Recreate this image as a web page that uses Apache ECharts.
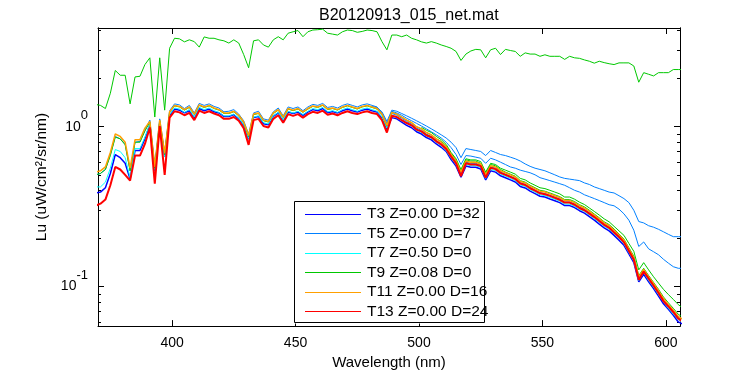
<!DOCTYPE html>
<html>
<head>
<meta charset="utf-8">
<script src="https://cdn.jsdelivr.net/npm/echarts@6/dist/echarts.min.js"></script>
<style>html,body{margin:0;padding:0;background:#fff}#c{width:750px;height:375px}</style>
</head>
<body>
<div id="c"></div>
<script>
// Wavelength grid (nm)
const wavelength = [
369,371,373,375,377,379,381,383,385,387,
389,391,393,395,397,399,401,403,405,407,
409,411,413,415,417,419,421,423,425,427,
429,431,433,435,437,439,441,443,445,447,
449,451,453,455,457,459,461,463,465,467,
469,471,473,475,477,479,481,483,485,487,
489,491,493,495,497,499,501,503,505,507,
509,511,513,515,517,519,521,523,525,527,
529,531,533,535,537,539,541,543,545,547,
549,551,553,555,557,559,561,563,565,567,
569,571,573,575,577,579,581,583,585,587,
589,591,593,595,597,599,601,603,605,607];

const t3 = [
0.385,0.39,0.415,0.51,0.67,0.64,0.59,0.47,0.71,0.71,
0.84,1.03,0.53,1.045,0.65,1.18,1.29,1.27,1.22,1.26,
1.14,1.30,1.26,1.29,1.24,1.22,1.16,1.16,1.19,1.12,
1.02,0.836,1.14,1.16,1.045,1.03,1.16,1.22,1.09,1.235,
1.21,1.235,1.18,1.235,1.28,1.26,1.30,1.225,1.245,1.22,
1.26,1.29,1.26,1.235,1.27,1.29,1.26,1.235,1.14,0.97,
1.14,1.12,1.07,1.02,0.985,0.93,0.90,0.856,0.828,0.78,
0.744,0.70,0.623,0.567,0.484,0.567,0.558,0.558,0.544,0.465,
0.53,0.52,0.493,0.479,0.465,0.451,0.423,0.414,0.395,0.381,
0.367,0.363,0.353,0.344,0.335,0.321,0.321,0.312,0.298,0.288,
0.274,0.26,0.246,0.233,0.223,0.209,0.195,0.181,0.16,0.141,
0.107,0.119,0.107,0.097,0.087,0.078,0.072,0.066,0.06,0.058];

const t5 = [
0.50,0.51,0.54,0.67,0.87,0.84,0.78,0.53,0.80,0.81,
0.95,1.10,0.57,1.12,0.69,1.26,1.39,1.37,1.30,1.36,
1.22,1.40,1.36,1.39,1.34,1.31,1.24,1.25,1.28,1.20,
1.09,0.90,1.22,1.25,1.12,1.10,1.24,1.31,1.17,1.33,
1.30,1.33,1.26,1.33,1.38,1.36,1.40,1.32,1.34,1.31,
1.36,1.39,1.36,1.33,1.37,1.39,1.36,1.33,1.22,1.04,
1.21,1.18,1.13,1.08,1.04,0.98,0.95,0.90,0.87,0.82,
0.78,0.735,0.655,0.60,0.51,0.60,0.59,0.59,0.575,0.49,
0.56,0.55,0.52,0.505,0.49,0.475,0.446,0.436,0.417,0.40,
0.387,0.382,0.372,0.363,0.353,0.338,0.338,0.328,0.314,0.304,
0.289,0.274,0.26,0.245,0.235,0.22,0.206,0.191,0.169,0.149,
0.113,0.125,0.113,0.102,0.092,0.082,0.075,0.07,0.064,0.061];

const t7 = [
0.42,0.42,0.45,0.55,0.72,0.70,0.64,0.48,0.73,0.73,
0.86,1.04,0.54,1.06,0.65,1.19,1.31,1.29,1.23,1.28,
1.15,1.32,1.28,1.31,1.26,1.23,1.17,1.17,1.20,1.13,
1.03,0.845,1.15,1.17,1.06,1.04,1.17,1.23,1.10,1.25,
1.22,1.25,1.19,1.25,1.30,1.28,1.32,1.24,1.26,1.23,
1.28,1.31,1.28,1.25,1.29,1.31,1.28,1.25,1.15,0.98,
1.17,1.14,1.09,1.045,1.01,0.95,0.92,0.874,0.845,0.80,
0.76,0.71,0.636,0.58,0.494,0.58,0.57,0.57,0.556,0.475,
0.54,0.532,0.504,0.49,0.475,0.46,0.432,0.423,0.404,0.39,
0.375,0.37,0.361,0.352,0.342,0.328,0.328,0.318,0.304,0.295,
0.28,0.266,0.252,0.238,0.228,0.214,0.2,0.185,0.163,0.144,
0.109,0.122,0.109,0.099,0.089,0.08,0.073,0.067,0.062,0.059];

const t9 = [
0.50,0.51,0.54,0.66,0.86,0.84,0.77,0.53,0.80,0.80,
0.94,1.07,0.55,1.09,0.67,1.23,1.35,1.33,1.27,1.32,
1.19,1.36,1.32,1.35,1.30,1.27,1.21,1.21,1.24,1.17,
1.06,0.87,1.19,1.21,1.09,1.07,1.21,1.27,1.14,1.29,
1.26,1.29,1.23,1.29,1.34,1.32,1.36,1.28,1.30,1.27,
1.32,1.35,1.32,1.29,1.33,1.35,1.32,1.29,1.19,1.01,
1.23,1.20,1.15,1.10,1.06,1.00,0.97,0.92,0.89,0.84,
0.81,0.76,0.68,0.62,0.53,0.62,0.61,0.61,0.59,0.51,
0.58,0.57,0.54,0.52,0.505,0.49,0.46,0.45,0.43,0.415,
0.40,0.395,0.385,0.375,0.365,0.35,0.35,0.34,0.325,0.315,
0.30,0.284,0.269,0.254,0.244,0.229,0.213,0.198,0.175,0.155,
0.117,0.13,0.117,0.106,0.096,0.086,0.079,0.073,0.067,0.064];

const t11 = [
0.52,0.53,0.56,0.69,0.90,0.87,0.80,0.55,0.83,0.83,
0.98,1.08,0.56,1.10,0.68,1.24,1.36,1.34,1.28,1.33,
1.20,1.37,1.33,1.36,1.31,1.28,1.22,1.22,1.25,1.18,
1.07,0.88,1.20,1.22,1.10,1.08,1.22,1.28,1.15,1.30,
1.27,1.30,1.24,1.30,1.35,1.33,1.37,1.29,1.31,1.28,
1.33,1.36,1.33,1.30,1.34,1.36,1.33,1.30,1.20,1.02,
1.23,1.20,1.15,1.10,1.06,1.00,0.97,0.92,0.89,0.84,
0.80,0.75,0.67,0.61,0.52,0.61,0.60,0.60,0.585,0.50,
0.57,0.56,0.53,0.515,0.50,0.485,0.455,0.445,0.425,0.41,
0.395,0.39,0.38,0.37,0.36,0.345,0.345,0.335,0.32,0.31,
0.295,0.28,0.265,0.25,0.24,0.225,0.21,0.195,0.172,0.152,
0.115,0.128,0.115,0.104,0.094,0.084,0.077,0.071,0.065,0.062];

const t13 = [
0.32,0.33,0.35,0.43,0.56,0.54,0.50,0.46,0.66,0.66,
0.78,0.99,0.44,1.01,0.50,1.14,1.25,1.23,1.18,1.22,
1.10,1.26,1.22,1.25,1.21,1.18,1.12,1.12,1.15,1.09,
0.98,0.77,1.10,1.12,1.01,0.99,1.12,1.18,1.06,1.20,
1.17,1.20,1.14,1.20,1.24,1.22,1.26,1.19,1.21,1.18,
1.22,1.25,1.22,1.20,1.23,1.25,1.22,1.20,1.10,0.92,
1.17,1.15,1.10,1.055,1.02,0.96,0.935,0.885,0.86,0.81,
0.775,0.725,0.65,0.59,0.49,0.59,0.58,0.58,0.567,0.48,
0.553,0.543,0.514,0.50,0.485,0.47,0.441,0.432,0.412,0.398,
0.383,0.378,0.369,0.359,0.349,0.335,0.335,0.325,0.31,0.30,
0.286,0.272,0.257,0.243,0.233,0.218,0.204,0.189,0.167,0.147,
0.11,0.124,0.112,0.101,0.091,0.081,0.075,0.069,0.063,0.06];

// Extra casts of the same stations
const t9Surface = [
1.38,1.36,1.30,1.62,2.25,2.10,2.10,1.39,2.05,2.07,
2.45,2.70,1.15,2.70,1.27,3.10,3.58,3.55,3.40,3.50,
3.41,3.15,3.65,3.58,3.58,3.50,3.45,3.34,3.50,3.34,
2.83,2.34,3.45,3.50,3.25,3.15,3.50,3.66,3.50,3.85,
3.93,4.00,3.66,3.93,4.03,4.05,4.08,3.85,3.80,3.75,
3.93,4.03,4.00,3.90,3.95,4.03,4.00,3.93,3.41,3.03,
3.75,3.75,3.66,3.75,3.58,3.50,3.40,3.34,3.41,3.34,
3.25,3.18,3.10,2.96,2.60,2.85,2.98,3.05,3.03,2.70,
3.03,3.10,2.83,3.05,3.00,2.96,2.76,2.90,2.85,2.85,
2.76,2.82,2.76,2.76,2.76,2.64,2.76,2.70,2.68,2.62,
2.57,2.50,2.57,2.52,2.48,2.45,2.51,2.51,2.51,2.40,
1.90,2.18,2.13,2.08,2.18,2.18,2.18,2.28,2.28,2.28];

// from 481 nm
const t5CastA = [
1.34,1.32,1.24,1.08,1.27,1.25,1.21,1.17,1.13,1.09,
1.05,1.01,0.97,0.93,0.89,0.85,0.80,0.74,0.64,0.73,
0.72,0.71,0.70,0.66,0.71,0.69,0.67,0.66,0.645,0.63,
0.61,0.585,0.565,0.55,0.54,0.53,0.515,0.50,0.485,0.475,
0.47,0.465,0.46,0.445,0.435,0.42,0.41,0.40,0.39,0.385,
0.37,0.355,0.335,0.30,0.255,0.25,0.24,0.235,0.228,0.22,
0.212,0.205,0.205,0.205];
const t5CastB = [
1.33,1.31,1.22,1.05,1.25,1.22,1.18,1.13,1.09,1.05,
1.01,0.97,0.93,0.89,0.85,0.80,0.74,0.67,0.58,0.66,
0.655,0.645,0.635,0.59,0.635,0.62,0.60,0.58,0.56,0.55,
0.535,0.525,0.515,0.50,0.48,0.47,0.46,0.45,0.44,0.43,
0.415,0.40,0.39,0.375,0.365,0.355,0.345,0.335,0.325,0.32,
0.305,0.285,0.26,0.225,0.178,0.19,0.172,0.165,0.158,0.148,
0.14,0.133,0.13,0.13];
// from 501 nm
const t9CastB = [
0.99,0.95,0.92,0.87,0.83,0.775,0.69,0.63,0.54,0.63,
0.62,0.62,0.605,0.52,0.59,0.58,0.55,0.535,0.52,0.505,
0.475,0.465,0.445,0.43,0.415,0.41,0.40,0.39,0.38,0.363,
0.363,0.352,0.337,0.326,0.31,0.295,0.28,0.265,0.254,0.238,
0.223,0.209,0.186,0.166,0.127,0.141,0.127,0.115,0.105,0.096,
0.089,0.083,0.077,0.073];

const names = ['T3 Z=0.00 D=32','T5 Z=0.00 D=7','T7 Z=0.50 D=0','T9 Z=0.08 D=0','T11 Z=0.00 D=16','T13 Z=0.00 D=24'];
const colors = ['#0000ff','#0080ff','#00ffff','#00c800','#ffa000','#ff0000'];
const xTicks = [400,450,500,550,600];
const yMajor = [0.1,1];
const yMinor = [0.06,0.07,0.08,0.09,0.2,0.3,0.4,0.5,0.6,0.7,0.8,0.9,2,3,4];

const FONT = 'Liberation Sans, Arial, Helvetica, sans-serif';
function pairs(vals, startWl) {
  const k = wavelength.indexOf(startWl);
  return vals.map((v, i) => [wavelength[i + k], v]);
}
function line(name, color, vals, startWl, width) {
  return {
    type: 'line', name: name, data: pairs(vals, startWl), color: color,
    symbol: 'none', showSymbol: false, animation: false,
    lineStyle: {color: color, width: width || 1},
    itemStyle: {color: color}, clip: true
  };
}
const series = [
  line('T9 surface', colors[3], t9Surface, 369),
  line('T5 cast A', colors[1], t5CastA, 481),
  line('T5 cast B', colors[1], t5CastB, 481),
  line('T9 cast B', colors[3], t9CastB, 501),
  line(names[0], colors[0], t3, 369, 1.5),
  line(names[1], colors[1], t5, 369),
  line(names[2], colors[2], t7, 369),
  line(names[3], colors[3], t9, 369),
  line(names[4], colors[4], t11, 369, 1.5),
  line(names[5], colors[5], t13, 369, 2)
];

const YMIN = 0.0565, YMAX = 4.15;
const XMIN = 370, XMAX = 605.7;
const black = {color: '#000', width: 1};
function yAx(pos, ticks, len, labels) {
  return {
    type: 'log', position: pos, min: YMIN, max: YMAX,
    axisLine: {show: true, lineStyle: black},
    axisTick: {show: true, inside: true, length: len, customValues: ticks, lineStyle: black},
    splitLine: {show: false}, minorTick: {show: false},
    axisLabel: labels ? {
      show: true, customValues: ticks, margin: 10,
      formatter: function (v) { return '{b|10}{s|' + Math.round(Math.log10(v)) + '}'; },
      rich: {
        b: {fontSize: 14, fontFamily: FONT, color: '#000', lineHeight: 36, verticalAlign: 'middle'},
        s: {fontSize: 13, fontFamily: FONT, color: '#000', lineHeight: 36, verticalAlign: 'top'}
      }
    } : {show: false}
  };
}
const yAxes = [
  Object.assign(yAx('left', yMajor, 6, true), {
    name: 'Lu (uW/cm²/sr/nm)', nameLocation: 'middle', nameGap: 45,
    nameTextStyle: {fontSize: 15.5, fontFamily: FONT, color: '#000'}
  }),
  yAx('left', yMinor, 3, false),
  yAx('right', yMajor, 6, false),
  yAx('right', yMinor, 3, false)
];

// legend sample lines (drawn as graphics so the colours are exact)
const LEG_X = 294, LEG_Y = 202, LEG_ROW = 19.5;
const legendLines = colors.map((c, i) => ({
  type: 'line', z: 101, silent: true,
  shape: {x1: LEG_X + 11, y1: Math.round(LEG_Y + 11.5 + i * LEG_ROW) + 0.5,
          x2: LEG_X + 67, y2: Math.round(LEG_Y + 11.5 + i * LEG_ROW) + 0.5},
  style: {stroke: c, lineWidth: 1}
}));

const chart = echarts.init(document.getElementById('c'), null, {renderer: 'canvas'});
chart.setOption({
  backgroundColor: '#fff',
  animation: false,
  title: {
    text: 'B20120913_015_net.mat', left: 314, top: 3,
    textStyle: {fontSize: 16, fontWeight: 'normal', fontFamily: FONT, color: '#000'}
  },
  grid: {left: 98, right: 70, top: 28, bottom: 44, containLabel: false},
  xAxis: [
    {
      type: 'value', position: 'bottom', min: XMIN, max: XMAX,
      axisLine: {lineStyle: black},
      axisTick: {inside: true, length: 6, customValues: xTicks, lineStyle: black},
      axisLabel: {customValues: xTicks, margin: 10, fontSize: 14, fontFamily: FONT, color: '#000'},
      splitLine: {show: false},
      name: 'Wavelength (nm)', nameLocation: 'middle', nameGap: 23,
      nameTextStyle: {fontSize: 15, fontFamily: FONT, color: '#000'}
    },
    {
      type: 'value', position: 'top', min: XMIN, max: XMAX,
      axisLine: {lineStyle: black},
      axisTick: {inside: true, length: 6, customValues: xTicks, lineStyle: black},
      axisLabel: {show: false}, splitLine: {show: false}
    }
  ],
  yAxis: yAxes,
  legend: {
    data: names,
    orient: 'vertical', left: LEG_X, top: LEG_Y,
    itemWidth: 56, itemHeight: 14, itemGap: 3.5,
    padding: [4, 4, 4, 11],
    backgroundColor: '#fff', borderWidth: 0,
    itemStyle: {opacity: 0},
    lineStyle: {opacity: 0},
    textStyle: {fontSize: 15.5, fontFamily: FONT, color: '#000'},
    selectedMode: false
  },
  graphic: [{
    type: 'rect', z: 100, silent: true,
    shape: {x: 294.5, y: 201.5, width: 190, height: 121},
    style: {fill: 'none', stroke: '#000', lineWidth: 1}
  }].concat(legendLines),
  series: series
});
</script>
</body>
</html>
